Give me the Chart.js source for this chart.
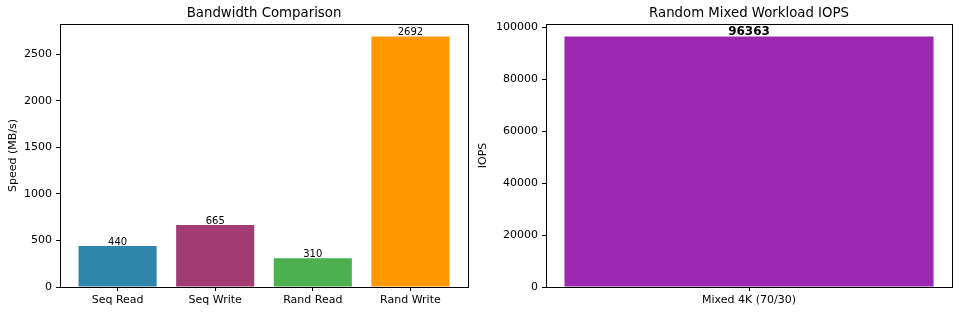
<!DOCTYPE html>
<html>
<head>
<meta charset="utf-8">
<script src="https://cdn.jsdelivr.net/npm/chart.js@4.4.1/dist/chart.umd.min.js"></script>
<style>
  html, body { margin: 0; padding: 0; background: #fff; }
  #wrap { position: relative; width: 960px; height: 314px; overflow: hidden; }
  #c1 { position: absolute; left: 0; top: 0; }
  #c2 { position: absolute; left: 470px; top: 0; }
</style>
</head>
<body>
<div id="wrap">
  <canvas id="c1" width="470" height="314"></canvas>
  <canvas id="c2" width="490" height="314"></canvas>
</div>
<script>
// ---- data ----
const bwCategories = ['Seq Read', 'Seq Write', 'Rand Read', 'Rand Write'];
const bwValues = [440, 665, 310, 2692];
const bwColors = ['#2E86AB', '#A23B72', '#4CAF50', '#FF9800'];
const bwYTicks = [0, 500, 1000, 1500, 2000, 2500];

const iopsCategories = ['Mixed 4K (70/30)'];
const iopsValues = [96363];
const iopsColors = ['#9C27B0'];
const iopsYTicks = [0, 20000, 40000, 60000, 80000, 100000];

const FONT = "'DejaVu Sans', 'Liberation Sans', sans-serif";
Chart.defaults.font.family = FONT;
Chart.defaults.color = '#000';
Chart.defaults.animation = false;

const frame = {
  id: 'frame',
  afterDraw(chart) {
    const a = chart.chartArea, ctx = chart.ctx;
    ctx.save();
    ctx.strokeStyle = '#000';
    ctx.lineWidth = 1;
    ctx.strokeRect(Math.round(a.left) + 0.5, Math.round(a.top) + 0.5,
                   Math.round(a.right - a.left), Math.round(a.bottom - a.top));
    ctx.restore();
  }
};

function valueLabels(font) {
  return {
    id: 'valueLabels',
    afterDatasetsDraw(chart) {
      const ctx = chart.ctx;
      const meta = chart.getDatasetMeta(0);
      const data = chart.data.datasets[0].data;
      ctx.save();
      ctx.font = font;
      ctx.fillStyle = '#000';
      ctx.textAlign = 'center';
      ctx.textBaseline = 'alphabetic';
      meta.data.forEach((el, i) => {
        const v = typeof data[i] === 'object' ? data[i].y : data[i];
        ctx.fillText(String(v), el.x, el.y - 1);
      });
      ctx.restore();
    }
  };
}

function yAxis(maxVal, ticksArr, title, width) {
  return {
    type: 'linear',
    min: 0,
    max: maxVal,
    afterBuildTicks: s => { s.ticks = ticksArr.map(v => ({ value: v })); },
    afterFit: s => { s.width = width; },
    ticks: { font: { size: 11 }, color: '#000', padding: 4, callback: v => String(v) },
    grid: { display: true, drawOnChartArea: false, drawTicks: true, tickLength: 4, color: '#000', tickColor: '#000' },
    border: { display: false },
    title: { display: true, text: title, font: { size: 11 }, color: '#000', padding: { top: 7, bottom: 0 } }
  };
}

// ---- left chart ----
new Chart(document.getElementById('c1'), {
  type: 'bar',
  data: {
    datasets: [{
      data: bwValues.map((v, i) => ({ x: i, y: v })),
      backgroundColor: bwColors,
      borderWidth: 0,
      categoryPercentage: 1.0,
      barPercentage: 0.8
    }]
  },
  options: {
    responsive: false,
    maintainAspectRatio: false,
    layout: { padding: { left: 0, right: 2, top: 0, bottom: 0 } },
    plugins: {
      legend: { display: false },
      tooltip: { enabled: false },
      title: { display: true, text: 'Bandwidth Comparison', fullSize: false,
               font: { size: 13.3, weight: 'normal' }, color: '#000', padding: { top: 6, bottom: 2 } }
    },
    scales: {
      x: {
        type: 'linear',
        min: -0.59,
        max: 3.59,
        offset: false,
        afterBuildTicks: s => { s.ticks = bwCategories.map((c, i) => ({ value: i })); },
        afterFit: s => { s.height = 27; },
        ticks: { font: { size: 11 }, color: '#000', padding: 3, maxRotation: 0, autoSkip: false,
                 callback: v => bwCategories[v] },
        grid: { display: true, offset: false, drawOnChartArea: false, drawTicks: true, tickLength: 4, color: '#000', tickColor: '#000' },
        border: { display: false }
      },
      y: yAxis(2692 * 1.05, bwYTicks, 'Speed (MB/s)', 60)
    }
  },
  plugins: [frame, valueLabels("10px " + FONT)]
});

// ---- right chart ----
new Chart(document.getElementById('c2'), {
  type: 'bar',
  data: {
    labels: iopsCategories,
    datasets: [{
      data: iopsValues,
      backgroundColor: iopsColors,
      borderWidth: 0,
      categoryPercentage: 1.0,
      barPercentage: 0.8 / 0.88
    }]
  },
  options: {
    responsive: false,
    maintainAspectRatio: false,
    layout: { padding: { left: 0, right: 8, top: 0, bottom: 0 } },
    plugins: {
      legend: { display: false },
      tooltip: { enabled: false },
      title: { display: true, text: 'Random Mixed Workload IOPS', fullSize: false,
               font: { size: 13.3, weight: 'normal' }, color: '#000', padding: { top: 6, bottom: 2 } }
    },
    scales: {
      x: {
        type: 'category',
        offset: true,
        afterFit: s => { s.height = 27; },
        ticks: { font: { size: 11 }, color: '#000', padding: 3, maxRotation: 0 },
        grid: { display: true, offset: false, drawOnChartArea: false, drawTicks: true, tickLength: 4, color: '#000', tickColor: '#000' },
        border: { display: false }
      },
      y: yAxis(96363 * 1.05, iopsYTicks, 'IOPS', 76)
    }
  },
  plugins: [frame, valueLabels("bold 12px " + FONT)]
});
</script>
</body>
</html>
